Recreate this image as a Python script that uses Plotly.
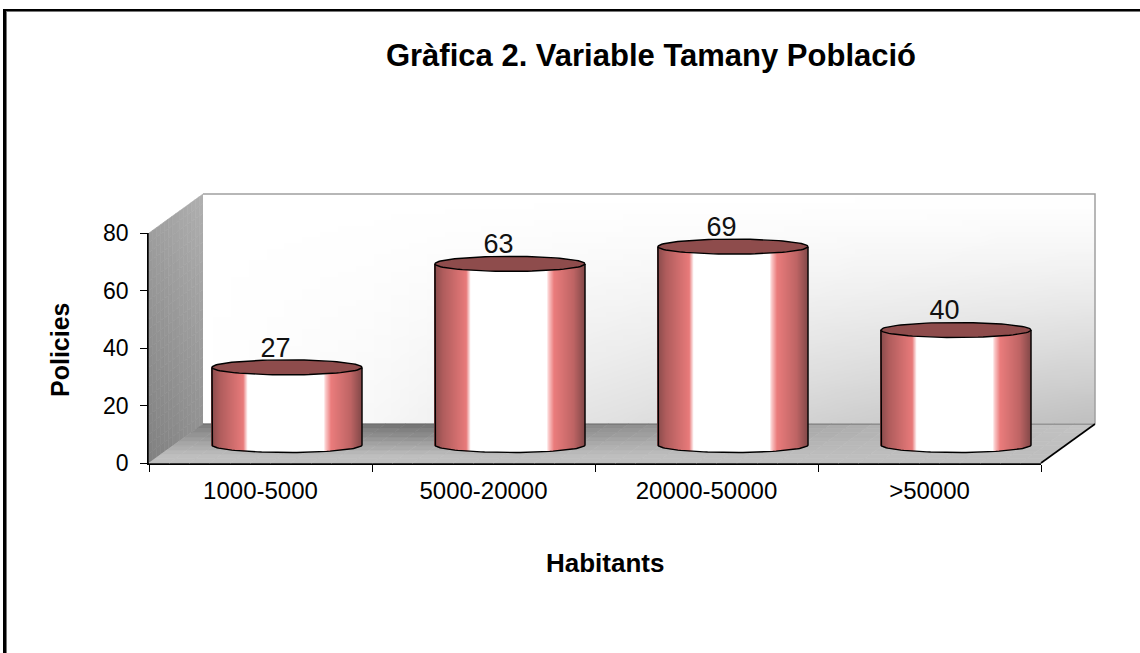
import numpy as np
import plotly.graph_objects as go

# ---- data ----
categories = ["1000-5000", "5000-20000", "20000-50000", ">50000"]
policies = [27, 63, 69, 40]
y_ticks = [0, 20, 40, 60, 80]
title_text = "Gràfica 2. Variable Tamany Població"
x_title = "Habitants"
y_title = "Policies"

# ---- page geometry (pixels in the 1140x653 window) ----
W, H = 1140, 653
AX_L, AX_R, AX_T, AX_B = 149, 1041, 233, 463   # front axis box
DX, DY = 54, 39                                # depth of the 3D box
CYL_DX, CYL_DY = 26.5, 18                      # cylinders stand mid-depth
CYL_W, CYL_RY = 150, 7.5
LABEL_DX = -11.5                               # value labels sit left of the cylinder centre
FONT = "Liberation Sans, Arial, sans-serif"

PX_PER_VAL = (AX_B - AX_T) / 80
PX_PER_CAT = (AX_R - AX_L) / 4
X0_PX = AX_L + PX_PER_CAT / 2 + CYL_DX         # pixel of category 0 on the cylinder axis
Y0_PX = AX_B - CYL_DY                          # pixel of value 0 on the cylinder axis


def ux(p):   # pixel -> cylinder x axis units
    return (np.asarray(p, dtype=float) - X0_PX) / PX_PER_CAT


def uy(p):   # pixel -> cylinder y axis units
    return (Y0_PX - np.asarray(p, dtype=float)) / PX_PER_VAL


def g(v):
    v = int(round(v))
    return f"rgb({v},{v},{v})"


def quad(pts, color):
    path = "M" + " L".join(f"{ux(x):.4f},{uy(y):.4f}" for x, y in pts) + " Z"
    return dict(type="path", xref="x2", yref="y2", path=path, fillcolor=color,
                line=dict(color=color, width=0.6), layer="below")


shapes = []

# left wall, shaded by small cells
NI, NJ = 14, 24
for i in range(NI):
    for j in range(NJ):
        a, b = i / NI, (i + 1) / NI
        c, d = j / NJ, (j + 1) / NJ
        pts = []
        for s, t in [(a, c), (b, c), (b, d), (a, d)]:
            pts.append((AX_L + DX * s, AX_B - DY * s - (AX_B - AX_T) * t))
        s, t = (a + b) / 2, (c + d) / 2
        shade = 128 + 48 * (0.4 * s + 0.6 * t)
        shapes.append(quad(pts, g(shade)))

# floor, shaded by small cells
NI, NJ = 44, 9
for i in range(NI):
    for j in range(NJ):
        a, b = i / NI, (i + 1) / NI
        c, d = j / NJ, (j + 1) / NJ
        span = AX_R - AX_L
        pts = []
        for s, t in [(a, c), (b, c), (b, d), (a, d)]:
            pts.append((AX_L + span * s + DX * t, AX_B - DY * t))
        s, t = (a + b) / 2, (c + d) / 2
        back = np.interp(AX_L + span * s + DX * t, [203, 420, 700, 900, 1094], [125, 112, 150, 180, 196])
        front = 190
        mix = min(1.0, (1 - t) * 1.25)
        shapes.append(quad(pts, g(back + (front - back) * mix)))

# back edge of the floor: lies behind the cylinders
shapes.append(dict(type="line", xref="x2", yref="y2",
                   x0=float(ux(AX_L + DX)), x1=float(ux(AX_R + DX)),
                   y0=float(uy(AX_B - DY)), y1=float(uy(AX_B - DY)),
                   line=dict(color="#6a6a6a", width=1.2), layer="below"))

# page frame (top and left only)
for x0, x1, y0, y1, col in [(3, 6, 9, H, "#000000"), (3, W, 9, 11, "#000000"),
                            (6, 7, 11, H, "#777777"), (6, W, 11, 12, "#777777")]:
    shapes.append(dict(type="rect", xref="paper", yref="paper", x0=x0 / W, x1=x1 / W,
                       y0=1 - y0 / H, y1=1 - y1 / H, fillcolor=col, line=dict(width=0), layer="above"))

fig = go.Figure()

# front axes: carry the real categories and values, drawn invisibly
fig.add_trace(go.Bar(x=categories, y=policies, marker=dict(opacity=0), hoverinfo="skip",
                     showlegend=False, xaxis="x", yaxis="y"))

# back wall gradient (cell edges, so it stops exactly at the wall)
wx = np.linspace(AX_L + DX, AX_R + DX, 51)
wy = np.linspace(AX_T - DY, AX_B - DY - 0.6, 41)
wxc = (wx[:-1] + wx[1:]) / 2
wyc = (wy[:-1] + wy[1:]) / 2
wz = [[1 - ((py - wy[0]) / (wy[-1] - wy[0])) ** 1.4
       * np.interp(px, [203, 380, 520, 850, 1094], [0.0, 0.03, 0.09, 0.19, 0.25])
       for px in wxc] for py in wyc]
fig.add_trace(go.Heatmap(x=ux(wx), y=uy(wy), z=wz, zmin=0, zmax=1, zsmooth="fast",
                         colorscale=[[0, "#000000"], [1, "#ffffff"]], showscale=False,
                         hoverinfo="skip", xaxis="x2", yaxis="y2"))

# edges of the box
fig.add_trace(go.Scatter(x=ux([AX_L + DX, AX_R + DX, AX_R + DX]),
                         y=uy([AX_T - DY, AX_T - DY, AX_B - DY]),
                         mode="lines", line=dict(color="#a0a0a0", width=1.5),
                         hoverinfo="skip", showlegend=False, xaxis="x2", yaxis="y2"))
fig.add_trace(go.Scatter(x=ux([AX_R, AX_R + DX]), y=uy([AX_B, AX_B - DY]),
                         mode="lines", line=dict(color="#000000", width=1.6),
                         hoverinfo="skip", showlegend=False, xaxis="x2", yaxis="y2"))

# cylinders
STOPS_T = [0.0, 0.06, 0.215, 0.245, 0.75, 0.765, 0.80, 0.93, 1.0]
STOPS_R = [134, 175, 232, 255, 255, 250, 234, 190, 134]
STOPS_G = [74, 92, 122, 255, 255, 200, 124, 100, 74]
STOPS_B = [74, 92, 122, 255, 255, 200, 124, 100, 74]
N = 150
rx = CYL_W / 2 / PX_PER_CAT
ry = CYL_RY / PX_PER_VAL
ts = (np.arange(N) + 0.5) / N
strip_colors = [f"rgb({np.interp(t, STOPS_T, STOPS_R):.0f},{np.interp(t, STOPS_T, STOPS_G):.0f},{np.interp(t, STOPS_T, STOPS_B):.0f})"
                for t in ts]
offs = (2 * ts - 1) * rx
lows = -ry * np.sqrt(1 - (2 * ts - 1) ** 2)
theta = np.linspace(0, 2 * np.pi, 90)
low_t = np.linspace(np.pi, 2 * np.pi, 60)

for i, (cat, val) in enumerate(zip(categories, policies)):
    fig.add_trace(go.Bar(x=i + offs, y=val - lows, base=lows, width=2 * rx / N * 1.3,
                         marker=dict(color=strip_colors, line=dict(width=0)),
                         name=cat, hoverinfo="skip", showlegend=False, xaxis="x2", yaxis="y2"))
    # body outline
    ox = np.r_[i - rx, i + rx * np.cos(low_t), i + rx]
    oy = np.r_[val, ry * np.sin(low_t), val]
    fig.add_trace(go.Scatter(x=ox, y=oy, mode="lines", line=dict(color="#000000", width=1.4),
                             hoverinfo="skip", showlegend=False, xaxis="x2", yaxis="y2"))
    # top cap
    fig.add_trace(go.Scatter(x=i + rx * np.cos(theta), y=val + ry * np.sin(theta), mode="lines",
                             fill="toself", fillcolor="#8e4c4c", line=dict(color="#000000", width=1.4),
                             hoverinfo="skip", showlegend=False, xaxis="x2", yaxis="y2"))
    # value label
    fig.add_trace(go.Scatter(x=[i + LABEL_DX / PX_PER_CAT], y=[val + ry * 0.55], mode="text", text=[str(val)],
                             textposition="top center", cliponaxis=False,
                             textfont=dict(family=FONT, size=27, color="#111111"),
                             hoverinfo="skip", showlegend=False, xaxis="x2", yaxis="y2"))

fig.update_layout(
    width=W, height=H, autosize=False,
    margin=dict(l=0, r=0, t=0, b=0, pad=0),
    paper_bgcolor="#ffffff", plot_bgcolor="rgba(0,0,0,0)",
    barmode="overlay", showlegend=False,
    font=dict(family=FONT, color="#000000"),
    title=dict(text=title_text, x=651 / W, y=1 - 55 / H, xanchor="center", yanchor="middle",
               xref="container", yref="container",
               font=dict(family=FONT, size=31, color="#000000", weight="bold")),
    shapes=shapes,
    xaxis=dict(domain=[AX_L / W, AX_R / W], range=[-0.5, 3.5], type="category",
               categoryorder="array", categoryarray=categories, anchor="y", automargin=False,
               tickson="boundaries", ticks="outside", ticklen=7, tickwidth=1.2, tickcolor="#000000",
               showline=True, linecolor="#000000", linewidth=2, showgrid=False, zeroline=False,
               ticklabelstandoff=5, tickfont=dict(family=FONT, size=24, color="#000000")),
    yaxis=dict(domain=[1 - AX_B / H, 1 - AX_T / H], range=[0, 80], anchor="x", automargin=False,
               tickmode="array", tickvals=y_ticks, ticks="outside", ticklen=7, tickwidth=1.2,
               tickcolor="#000000", showline=True, linecolor="#000000", linewidth=1.6,
               showgrid=False, zeroline=False, ticklabelstandoff=7,
               tickfont=dict(family=FONT, size=23, color="#000000")),
    xaxis2=dict(domain=[0, 1], range=[float(ux(0)), float(ux(W))], anchor="y2",
                visible=False, fixedrange=True),
    yaxis2=dict(domain=[0, 1], range=[float(uy(H)), float(uy(0))], anchor="x2",
                visible=False, fixedrange=True),
    annotations=[
        dict(text=y_title, xref="paper", yref="paper", x=60 / W, y=1 - 350 / H, showarrow=False,
             textangle=-90, xanchor="center", yanchor="middle",
             font=dict(family=FONT, size=25, color="#000000", weight="bold")),
        dict(text=x_title, xref="paper", yref="paper", x=605 / W, y=1 - 563 / H, showarrow=False,
             xanchor="center", yanchor="middle",
             font=dict(family=FONT, size=26, color="#000000", weight="bold")),
    ],
)

fig.write_html("out.html", config={"displayModeBar": False},
               post_script="document.body.style.margin='0';document.body.style.overflow='hidden';")
